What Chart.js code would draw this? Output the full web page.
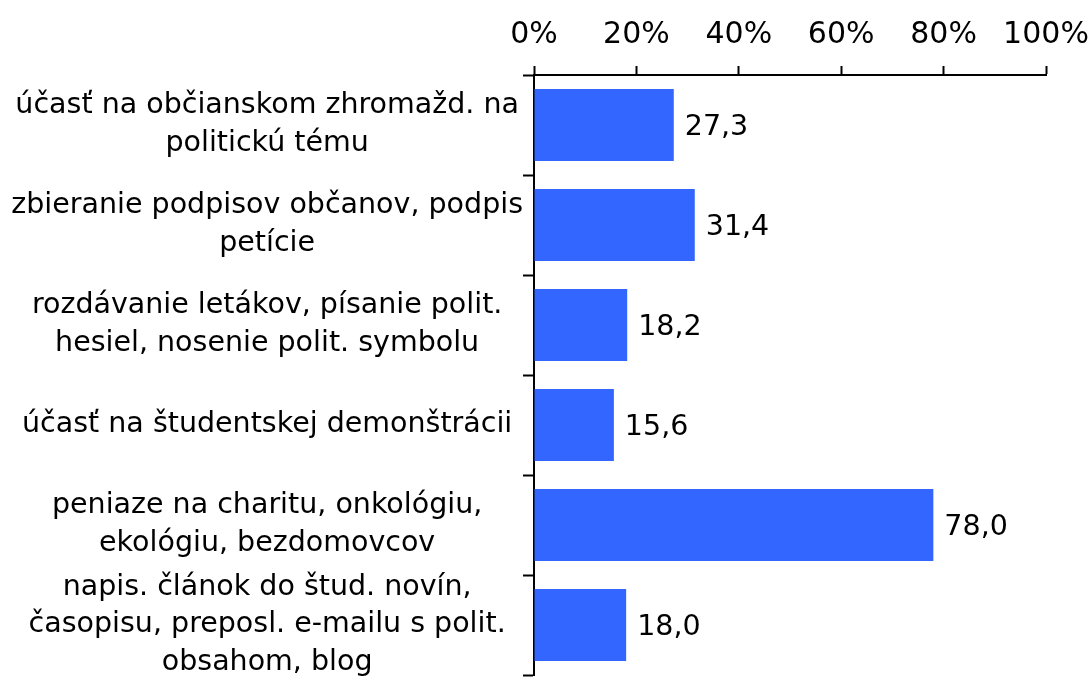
<!DOCTYPE html>
<html><head><meta charset="utf-8">
<script src="https://cdn.jsdelivr.net/npm/chart.js@4/dist/chart.umd.min.js"></script>
<style>html,body{margin:0;padding:0;background:#fff}#wrap{width:1090px;height:679px}</style>
</head><body><div id="wrap"><canvas id="c" width="1090" height="679"></canvas></div>
<script>
const categories = [
  ["účasť na občianskom zhromažd. na", "politickú tému"],
  ["zbieranie podpisov občanov, podpis", "petície"],
  ["rozdávanie letákov, písanie polit.", "hesiel, nosenie polit. symbolu"],
  ["účasť na študentskej demonštrácii"],
  ["peniaze na charitu, onkológiu,", "ekológiu, bezdomovcov"],
  ["napis. článok do štud. novín,", "časopisu, preposl. e-mailu s polit.", "obsahom, blog"]
];
const values = [27.3, 31.4, 18.2, 15.6, 78.0, 18.0];
const xTicks = [0, 20, 40, 60, 80, 100];

const FONT = "DejaVu Sans";
const valueLabels = {
  id: 'valueLabels',
  afterDatasetsDraw(chart) {
    const ctx = chart.ctx;
    const meta = chart.getDatasetMeta(0);
    ctx.save();
    ctx.font = "28.5px '" + FONT + "'";
    ctx.fillStyle = '#000';
    ctx.textAlign = 'left';
    ctx.textBaseline = 'middle';
    meta.data.forEach((bar, i) => {
      ctx.fillText(values[i].toFixed(1).replace('.', ','), bar.x + 11, bar.y + 3);
    });
    ctx.restore();
  }
};

new Chart(document.getElementById('c'), {
  type: 'bar',
  data: {
    labels: categories,
    datasets: [{ data: values, backgroundColor: '#3366FF', barPercentage: 0.72, categoryPercentage: 1.0 }]
  },
  plugins: [valueLabels],
  options: {
    indexAxis: 'y',
    responsive: false,
    animation: false,
    layout: { padding: { top: 0, right: 44, bottom: 4, left: 0 } },
    plugins: { legend: { display: false }, tooltip: { enabled: false } },
    scales: {
      x: {
        position: 'top',
        min: 0, max: 100,
        afterBuildTicks(s) { s.ticks = xTicks.map(v => ({ value: v })); },
        afterFit(s) { s.height = 75; s.paddingLeft = 0; s.paddingRight = 0; },
        ticks: { callback: v => v + '%', color: '#000', font: { family: FONT, size: 30 }, padding: 13, maxRotation: 0 },
        grid: { drawOnChartArea: false, tickLength: 9, color: '#000', tickWidth: 2 },
        border: { color: '#000', width: 2 }
      },
      y: {
        afterFit(s) { s.width = 534; s.paddingTop = 0; s.paddingBottom = 0; },
        ticks: { color: '#000', font: { family: FONT, size: 28.5, lineHeight: 1.33 }, crossAlign: 'center', padding: 0, autoSkip: false },
        grid: { drawOnChartArea: false, offset: true, tickLength: 11, color: '#000', tickWidth: 2 },
        border: { color: '#000', width: 2 }
      }
    }
  }
});
</script></body></html>
